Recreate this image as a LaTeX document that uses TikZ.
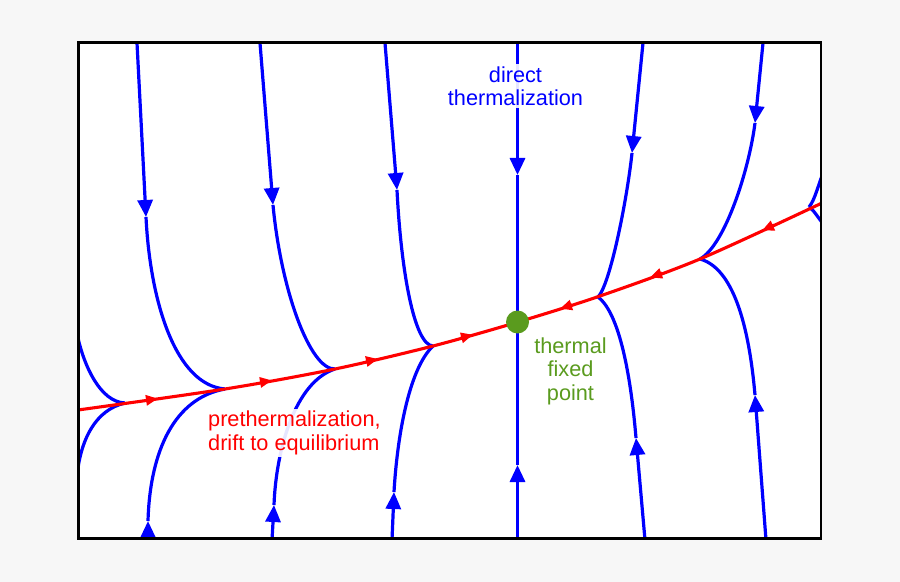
\documentclass[tikz,border=0pt]{standalone}
\usepackage{fontspec}
\setmainfont{Liberation Sans}
\usetikzlibrary{arrows.meta}
\definecolor{bgcol}{RGB}{247,247,247}
\definecolor{fpgreen}{RGB}{90,155,30}

\begin{document}
\begin{tikzpicture}[x=1bp,y=-1bp,
  flow/.style={blue,line width=3.2bp,line join=round},
  drift/.style={red,line width=3.1bp,line join=round},
  lbl/.style={font=\fontsize{21.7bp}{23.5bp}\selectfont,inner sep=2bp,
    fill=white,fill opacity=.9,text opacity=1}]
\fill[bgcol] (0,0) rectangle (900,582);
\useasboundingbox (0,0) rectangle (900,582);
\fill[white] (78.5,42.5) rectangle (821,538.5);
\coordinate (fp) at (517.5,322);
\begin{scope}
\clip (78.5,42.5) rectangle (821,538.5);
% arrowed ends of the flow lines
\foreach \sx/\sy/\tx/\ty in {137/43/146/217, 260/43/273/205, 385/43/397/190,
    517.5/43/517.5/175, 643/43/632/153, 763/43/755/123,
    148/540/148/521, 272/540/274/505, 392/540/394/492,
    517.5/540/517.5/465, 645/540/636/438, 766/540/755/395}
  \draw[flow,-{Triangle[length=17bp,width=15bp]}] (\sx,\sy) -- (\tx,\ty);
% flow lines from above
\draw[flow] (78,338) .. controls (84,365) and (100,402) .. (125,403);
\draw[flow] (146,217) .. controls (150,300) and (175,385) .. (225,389);
\draw[flow] (273,205) .. controls (281,290) and (310,370) .. (335,369);
\draw[flow] (397,190) .. controls (401,270) and (414,345) .. (433,346);
\draw[flow] (517.5,175) -- (fp);
\draw[flow] (632,153) .. controls (627,200) and (610,285) .. (598,297);
\draw[flow] (755,123) .. controls (749,170) and (725,245) .. (700,259);
\draw[flow] (825,168) .. controls (818,185) and (815,200) .. (809,207);
% flow lines from below
\draw[flow] (78,468) .. controls (82,440) and (95,410) .. (125,403);
\draw[flow] (148,521) .. controls (150,450) and (175,398) .. (225,389);
\draw[flow] (274,505) .. controls (276,450) and (295,382) .. (335,369);
\draw[flow] (394,492) .. controls (397,440) and (408,370) .. (433,346);
\draw[flow] (517.5,465) -- (fp);
\draw[flow] (636,438) .. controls (632,390) and (622,315) .. (598,297);
\draw[flow] (755,395) .. controls (751,350) and (740,270) .. (700,259);
\draw[flow] (825,226) .. controls (818,218) and (814,210) .. (809,207);
% slow drift towards the fixed point
\draw[drift] plot[smooth] coordinates {(78,410) (225,389) (335,369) (433,346) (518,322) (600,296) (700,259) (822,203)};
\foreach \x/\y/\s in {158/398.6/.145, 272/380.4/.17, 378/358.9/.22, 473/334.7/.27}
  \draw[drift,-{Triangle[length=12bp,width=10bp]}] (\x-12,\y+12*\s) -- (\x,\y);
\foreach \x/\y/\s in {560/308.7/.32, 650/277.5/.37, 762/230.5/.45}
  \draw[drift,-{Triangle[length=12bp,width=10bp]}] (\x+12,\y-12*\s) -- (\x,\y);
\end{scope}
\draw[line width=2.7bp] (78.5,42.5) rectangle (821,538.5);
\node[circle,fill=fpgreen,minimum size=23bp,inner sep=0] (dot) at (fp) {};
\node[lbl,text=blue,align=center] (direct) at (515.5,86) {direct\\thermalization};
\node[lbl,text=fpgreen,align=center,fill opacity=0] (thermal) at (570.5,371) {thermal\\fixed\\point};
\node[lbl,text=red,align=left,anchor=west] (prether) at (206,433) {prethermalization,\\drift to equilibrium};
\end{tikzpicture}
\end{document}
